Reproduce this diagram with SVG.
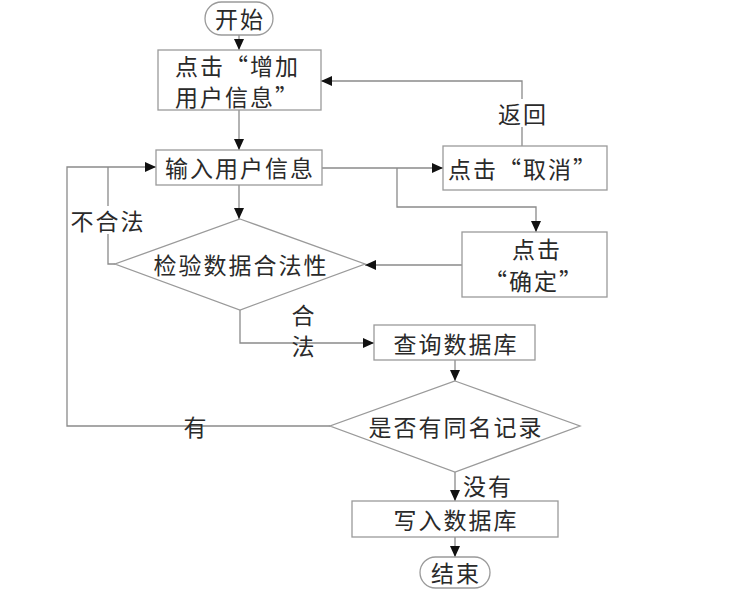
<svg xmlns="http://www.w3.org/2000/svg" width="732" height="598" viewBox="0 0 732 598">
<style>
.box{fill:#fff;stroke:#9a9a9a;stroke-width:1.3}
.ln{fill:none;stroke:#8a8a8a;stroke-width:1.3}
text{font-family:"Noto Sans CJK SC","Noto Sans CJK JP",sans-serif;font-size:23px;fill:#2a2a2a;letter-spacing:2px;dominant-baseline:central}
.c{text-anchor:middle}
.bg{fill:#fff;stroke:none}
</style>
<defs>
<marker id="ah" markerUnits="userSpaceOnUse" markerWidth="12" markerHeight="10" refX="11" refY="5" orient="auto">
<path d="M0,0 L11,5 L0,10 Z" fill="#111"/>
</marker>
</defs>
<rect width="732" height="598" fill="#fff"/>
<g id="connectors">
<line class="ln" x1="239" y1="35" x2="239" y2="50" marker-end="url(#ah)"/>
<line class="ln" x1="239" y1="110" x2="239" y2="150" marker-end="url(#ah)"/>
<line class="ln" x1="239" y1="185" x2="239" y2="219" marker-end="url(#ah)"/>
<polyline class="ln" points="322,168 443,168" marker-end="url(#ah)"/>
<polyline class="ln" points="397,168 397,207 536,207 536,232" marker-end="url(#ah)"/>
<polyline class="ln" points="522,146 522,81 321,81" marker-end="url(#ah)"/>
<polyline class="ln" points="462,265 365,265" marker-end="url(#ah)"/>
<polyline class="ln" points="115,264 108,264 108,167"/>
<polyline class="ln" points="330,426 67,426 67,167 156,167" marker-end="url(#ah)"/>
<polyline class="ln" points="240,310 240,343 374,343" marker-end="url(#ah)"/>
<line class="ln" x1="455" y1="360" x2="455" y2="381" marker-end="url(#ah)"/>
<line class="ln" x1="455" y1="472" x2="455" y2="501" marker-end="url(#ah)"/>
<line class="ln" x1="455" y1="537" x2="455" y2="557" marker-end="url(#ah)"/>
<rect class="bg" x="496" y="99" width="52" height="28"/>
<text class="c" x="523" y="113">返回</text>
<rect class="bg" x="68" y="206" width="80" height="28"/>
<text class="c" x="108" y="220">不合法</text>
<text class="c" x="304" y="314">合</text>
<text class="c" x="304" y="345">法</text>
<text class="c" x="196" y="426">有</text>
<text x="463" y="485">没有</text>
</g>
<g id="start">
<rect class="box" x="205" y="2" width="68" height="33" rx="16.5"/>
<text class="c" x="240" y="18">开始</text>
</g>
<g id="add">
<rect class="box" x="158" y="50" width="163" height="60"/>
<text x="175" y="65">点击“增加</text>
<text x="175" y="96">用户信息”</text>
</g>
<g id="input">
<rect class="box" x="156" y="150" width="166" height="35"/>
<text class="c" x="240" y="167">输入用户信息</text>
</g>
<g id="cancel">
<rect class="box" x="443" y="146" width="164" height="44"/>
<text x="448" y="168">点击“取消”</text>
</g>
<g id="confirm">
<rect class="box" x="462" y="232" width="145" height="65"/>
<text class="c" x="537" y="248">点击</text>
<text class="c" x="534" y="280">“确定”</text>
</g>
<g id="validate">
<polygon class="box" points="240,219 365,264 240,310 115,264"/>
<text class="c" x="241" y="264">检验数据合法性</text>
</g>
<g id="query">
<rect class="box" x="374" y="325" width="161" height="35"/>
<text class="c" x="456" y="343">查询数据库</text>
</g>
<g id="dup">
<polygon class="box" points="455,381 580,426 455,472 330,426"/>
<text class="c" x="456" y="426">是否有同名记录</text>
</g>
<g id="write">
<rect class="box" x="352" y="501" width="206" height="36"/>
<text class="c" x="456" y="519">写入数据库</text>
</g>
<g id="end">
<rect class="box" x="420" y="557" width="70" height="31" rx="15.5"/>
<text class="c" x="456" y="572">结束</text>
</g>
</svg>
